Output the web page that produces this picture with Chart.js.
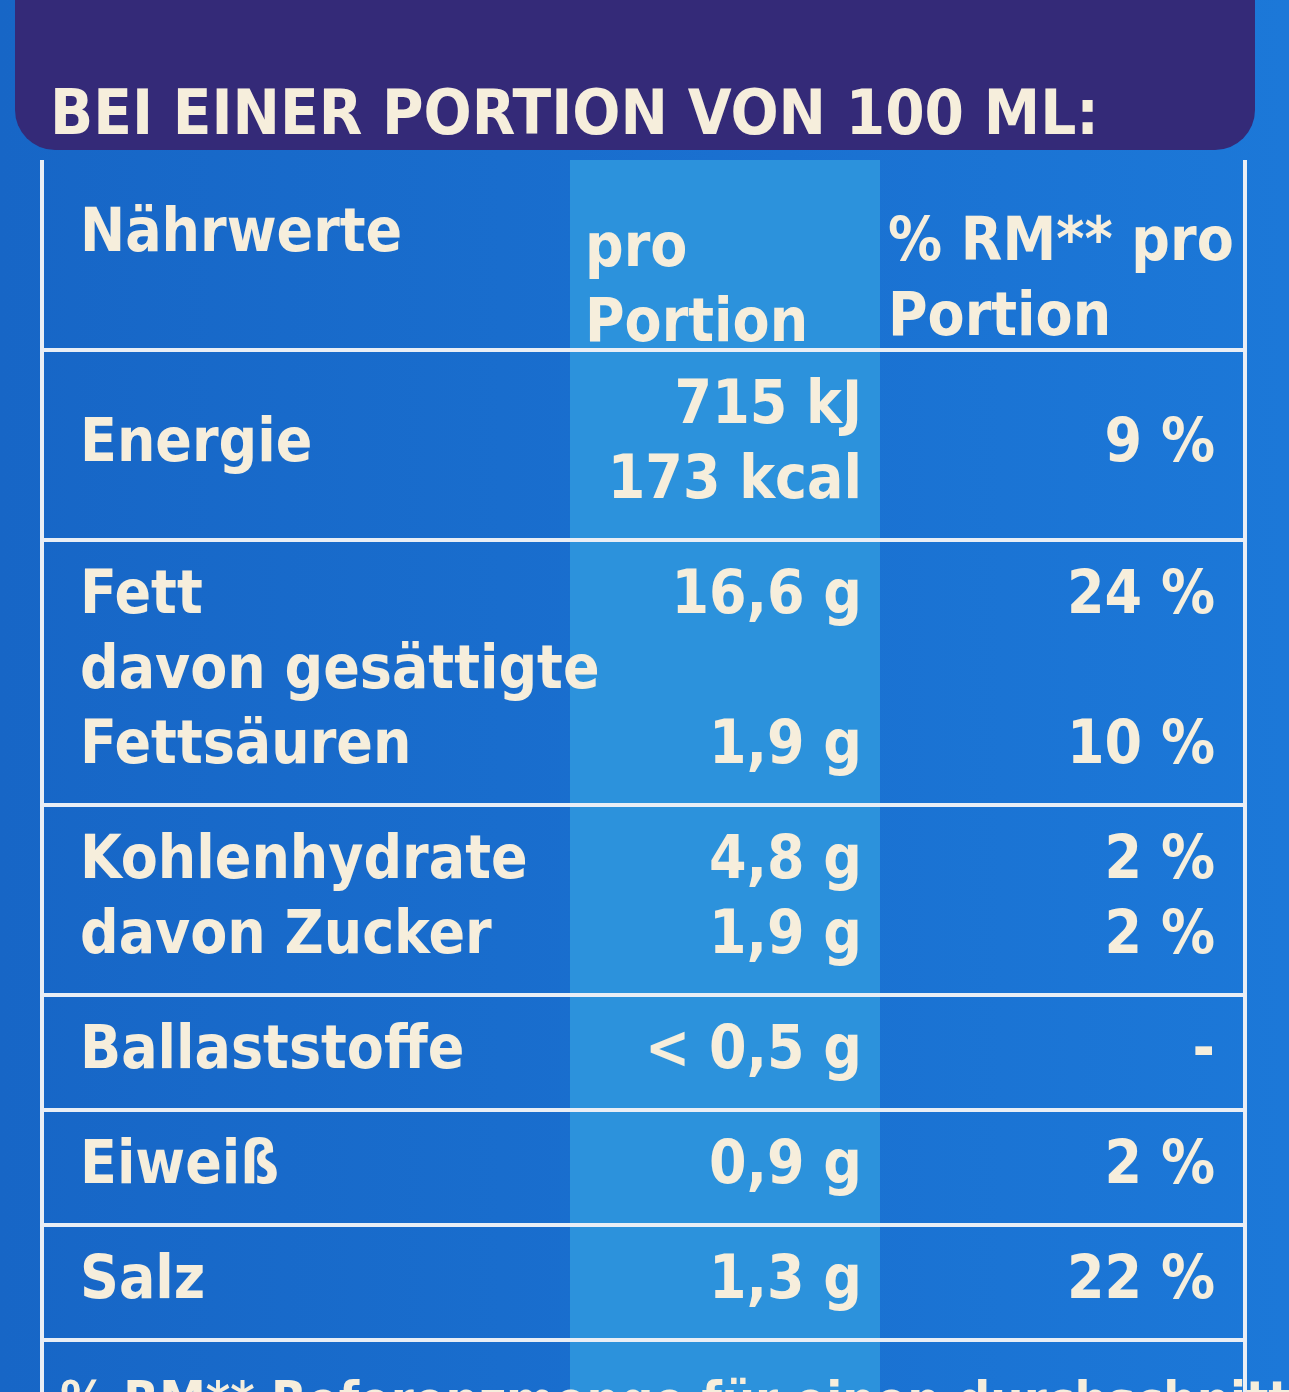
<!DOCTYPE html>
<html>
<head>
<meta charset="utf-8">
<script src="https://cdn.jsdelivr.net/npm/chart.js@4"></script>
<style>
  html, body { margin: 0; padding: 0; background: #1b6fd0; }
  #wrap { width: 1289px; height: 1392px; position: relative; }
</style>
</head>
<body>
<div id="wrap"><canvas id="labelChart"></canvas></div>
<script>
// Table content
const title = 'BEI EINER PORTION VON 100 ML:';
const headLeft = ['Nährwerte'];
const headMid = ['pro', 'Portion'];
const headRight = ['% RM** pro', 'Portion'];
const leftText = [['Energie'], ['Fett', 'davon gesättigte', 'Fettsäuren'], ['Kohlenhydrate', 'davon Zucker'], ['Ballaststoffe'], ['Eiweiß'], ['Salz']];
const midText = [['715 kJ', '173 kcal'], ['16,6 g', '', '1,9 g'], ['4,8 g', '1,9 g'], ['< 0,5 g'], ['0,9 g'], ['1,3 g']];
const rightText = [['9 %'], ['24 %', '', '10 %'], ['2 %', '2 %'], ['-'], ['2 %'], ['22 %']];
const footText = '% RM** Referenzmenge für einen durchschnittlichen';

const CREAM = '#f6eedc';
const FONT = '"Liberation Sans Narrow", "DejaVu Sans Condensed", "Noto Sans", sans-serif';

const tablePlugin = {
    id: 'nutritionTable',
    beforeDraw(chart) {
        const ctx = chart.ctx;
        const xs = chart.scales.x, ys = chart.scales.y;
        const X = v => xs.getPixelForValue(v);
        const Y = v => ys.getPixelForValue(v);

        // background
        const g = ctx.createLinearGradient(0, 0, X(1289), 0);
        g.addColorStop(0, '#1766c6');
        g.addColorStop(1, '#1c78d8');
        ctx.fillStyle = g;
        ctx.fillRect(X(0), Y(0), X(1289) - X(0), Y(1392) - Y(0));

        // title band
        ctx.fillStyle = '#342a78';
        ctx.beginPath();
        ctx.roundRect(X(15), Y(-40), X(1255) - X(15), Y(150) - Y(-40), 40);
        ctx.fill();
        ctx.fillStyle = CREAM;
        ctx.font = 'bold 60px ' + FONT;
        ctx.textBaseline = 'alphabetic';
        ctx.textAlign = 'left';
        ctx.save();
        ctx.translate(X(50), Y(134));
        ctx.scale(1.05, 1.05);
        ctx.fillText(title, 0, 0);
        ctx.restore();

        // column geometry
        const left = 42, c1 = 570, c2 = 880, right = 1245;
        const top = 160, headBottom = 350;
        const lineH = 75, pad = 40;

        // middle column highlight
        ctx.fillStyle = '#2c92dc';
        ctx.fillRect(X(c1), Y(top), X(c2) - X(c1), Y(1392) - Y(top));

        let y = headBottom;
        const rowTops = [];
        leftText.forEach((l, i) => {
            rowTops.push(y);
            const n = Math.max(l.length, midText[i].length, rightText[i].length);
            y += n * lineH + pad;
        });
        const bottom = y;

        ctx.font = 'bold 60px ' + FONT;
        ctx.textBaseline = 'middle';
        const drawLines = (arr, x, align, center) => {
            ctx.textAlign = align;
            const start = center - (arr.length - 1) * lineH / 2;
            arr.forEach((t, k) => ctx.fillText(t, X(x), Y(start + k * lineH)));
        };
        ctx.fillStyle = CREAM;
        // header
        ctx.textAlign = 'left';
        ctx.fillText(headLeft[0], X(80), Y(235));
        drawLines(headMid, 585, 'left', 288);
        ctx.save();
        ctx.beginPath();
        ctx.rect(X(880), Y(top), X(right) - X(880) - 6, Y(headBottom) - Y(top));
        ctx.clip();
        drawLines(headRight, 888, 'left', 282);
        ctx.restore();

        rowTops.forEach((rt, i) => {
            const n = Math.max(leftText[i].length, midText[i].length, rightText[i].length);
            const mid = rt + (n * lineH + pad) / 2;
            drawLines(leftText[i], 80, 'left', mid);
            drawLines(midText[i], 862, 'right', mid);
            drawLines(rightText[i], 1215, 'right', mid);
        });

        // grid lines
        ctx.strokeStyle = '#e9eef5';
        ctx.lineWidth = 4;
        ctx.beginPath();
        ctx.moveTo(X(left), Y(top)); ctx.lineTo(X(left), Y(1392));
        ctx.moveTo(X(right), Y(top)); ctx.lineTo(X(right), Y(1392));
        [headBottom, ...rowTops.slice(1), bottom].forEach(v => {
            ctx.moveTo(X(left), Y(v)); ctx.lineTo(X(right), Y(v));
        });
        ctx.stroke();

        // footer (cut off at the bottom edge)
        ctx.font = 'bold 52px ' + FONT;
        ctx.textAlign = 'left';
        ctx.textBaseline = 'top';
        ctx.fillText(footText, X(60), Y(bottom + 38));
    }
};

new Chart(document.getElementById('labelChart'), {
    type: 'scatter',
    data: { datasets: [{ data: [] }] },
    options: {
        responsive: true,
        maintainAspectRatio: false,
        animation: false,
        layout: { padding: 0 },
        scales: {
            x: { type: 'linear', min: 0, max: 1289, display: false },
            y: { type: 'linear', min: 0, max: 1392, reverse: true, display: false }
        },
        plugins: { legend: { display: false }, tooltip: { enabled: false } }
    },
    plugins: [tablePlugin]
});
</script>
</body>
</html>
